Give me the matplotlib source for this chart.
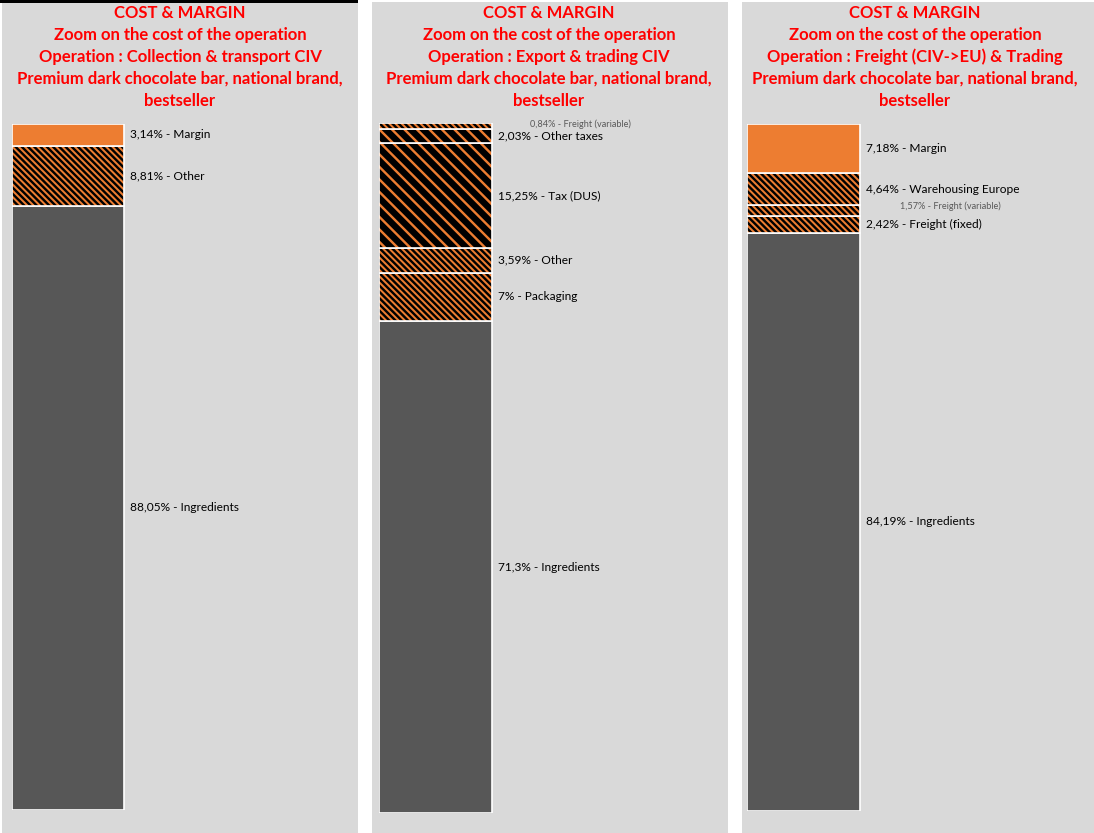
import matplotlib.pyplot as plt
from matplotlib.patches import Rectangle

plt.rcParams['font.family'] = ['Lato', 'DejaVu Sans']
plt.rcParams['hatch.linewidth'] = 2.3

####################################################################################
# data (bottom -> top)
header = ["COST & MARGIN", "Zoom on the cost of the operation"]
product = ["Premium dark chocolate bar, national brand,", "bestseller"]
operations = ["Operation : Collection & transport CIV",
              "Operation : Export & trading CIV",
              "Operation : Freight (CIV->EU) & Trading"]

names1 = ["Ingredients", "Other", "Margin"]
values1 = [88.05, 8.81, 3.14]
kinds1 = ["dark", "dense", "orange"]

names2 = ["Ingredients", "Packaging", "Other", "Tax (DUS)", "Other taxes", "Freight (variable)"]
values2 = [71.3, 7, 3.59, 15.25, 2.03, 0.84]
kinds2 = ["dark", "dense", "dense", "wide", "wide", "dense"]

names3 = ["Ingredients", "Freight (fixed)", "Freight (variable)", "Warehousing Europe", "Margin"]
values3 = [84.19, 2.42, 1.57, 4.64, 7.18]
kinds3 = ["dark", "dense", "dense", "dense", "orange"]

####################################################################################
# style
W, H, DPI = 1094, 833, 75
bg = '#D9D9D9'
orange = '#ED7D31'
dark = '#575757'
red = '#FF0000'

# panel: (panel left, panel right, bar left, bar right, bar top, bar bottom, title centre)
panels = [(2, 358, 12, 124, 124, 810, 180),
          (372, 728, 379, 492, 123, 813, 549),
          (742, 1094, 747, 860, 124, 811, 915)]
# small labels dragged away from the bar (panel, name) -> (dx, dy) pixels
small_offsets = {(1, "Freight (variable)"): (32, 2), (2, "Freight (variable)"): (34, 4)}


def box(x0, y0, x1, y1):
    return [x0 / W, 1 - y1 / H, (x1 - x0) / W, (y1 - y0) / H]


def fmt(v):
    return f"{v:g}".replace('.', ',') + "%"


fig = plt.figure(figsize=(W / DPI, H / DPI), dpi=DPI)
fig.patch.set_facecolor('white')

for p, (pl, pr, bl, br, bt, bb, tc) in enumerate(panels):
    fig.patches.append(Rectangle((pl / W, 0), (pr - pl) / W, 1 - 2 / H,
                                 transform=fig.transFigure, facecolor=bg, edgecolor='none', zorder=-2))
    lines = header + [operations[p]] + product
    for i, line in enumerate(lines):
        fig.text(tc / W, 1 - (13 + 22 * i) / H, line, ha='center', va='center',
                 color=red, fontsize=16, fontweight='bold')

fig.patches.append(Rectangle((0, 1 - 3 / H), 358 / W, 3 / H, transform=fig.transFigure,
                             facecolor='black', edgecolor='none', zorder=-1))

for p, (names, values, kinds) in enumerate([(names1, values1, kinds1),
                                            (names2, values2, kinds2),
                                            (names3, values3, kinds3)]):
    pl, pr, bl, br, bt, bb, tc = panels[p]
    ax = fig.add_axes(box(bl, bt, pr, bb))
    ax.set_xlim(0, (pr - bl) / (br - bl))
    ax.set_ylim(0, sum(values))
    ax.axis('off')

    bottom = 0
    for name, v, kind in zip(names, values, kinds):
        if kind == 'dark':
            ax.bar(0, v, bottom=bottom, width=1, align='edge', color=dark, linewidth=0)
        elif kind == 'orange':
            ax.bar(0, v, bottom=bottom, width=1, align='edge', color=orange, linewidth=0)
        elif kind == 'dense':
            ax.bar(0, v, bottom=bottom, width=1, align='edge', color=orange,
                   edgecolor='black', hatch='\\' * 4, linewidth=0)
        else:
            ax.bar(0, v, bottom=bottom, width=1, align='edge', color='black',
                   edgecolor=orange, hatch='\\' * 2, linewidth=0)
        ax.bar(0, v, bottom=bottom, width=1, align='edge', fill=False,
               edgecolor='white', linewidth=1.6)

        label = fmt(v) + " - " + name
        if (p, name) in small_offsets:
            dx, dy = small_offsets[(p, name)]
            ax.annotate(label, xy=(1, bottom + v / 2), xytext=(6 + dx, dy),
                        textcoords='offset pixels', ha='left', va='center',
                        fontsize=8.8, color='#595959')
        else:
            ax.annotate(label, xy=(1, bottom + v / 2), xytext=(6, 0),
                        textcoords='offset pixels', ha='left', va='center',
                        fontsize=11.4, color='black')
        bottom += v

fig.savefig('out.png', dpi=DPI, facecolor='white')
